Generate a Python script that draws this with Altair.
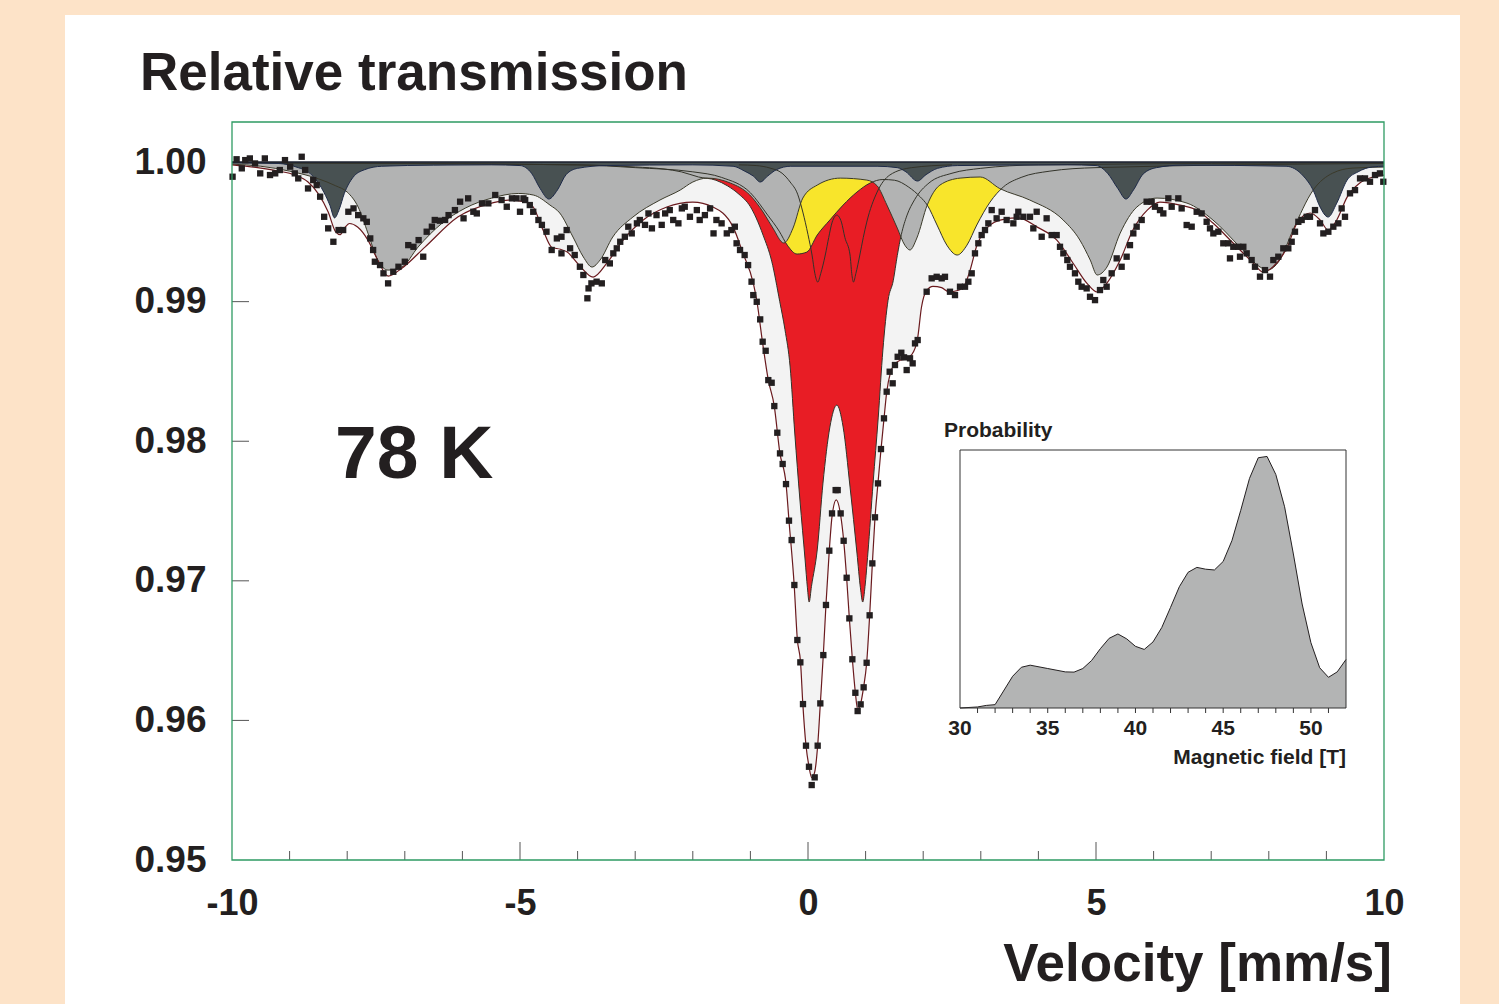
import altair as alt
import pandas as pd

# ---------------- data ----------------
# measured spectrum (velocity mm/s, relative transmission)
pts_x = [-9.99, -9.92, -9.83, -9.77, -9.69, -9.60, -9.51, -9.43, -9.34, -9.25, -9.17, -9.08, -8.99, -8.91, -8.85,
         -8.79, -8.73, -8.68, -8.59, -8.53, -8.47, -8.40, -8.33, -8.24, -8.15, -8.07, -7.98, -7.89, -7.81, -7.72,
         -7.66, -7.60, -7.55, -7.52, -7.43, -7.37, -7.29, -7.20, -7.11, -7.00, -6.94, -6.85, -6.76, -6.68, -6.62,
         -6.53, -6.48, -6.39, -6.30, -6.24, -6.13, -6.04, -5.98, -5.90, -5.81, -5.75, -5.66, -5.55, -5.43, -5.32,
         -5.23, -5.14, -5.06, -5.00, -4.94, -4.91, -4.83, -4.77, -4.68, -4.62, -4.54, -4.45, -4.36, -4.28, -4.19,
         -4.28, -4.13, -4.05, -3.96, -3.90, -3.83, -3.81, -3.76, -3.67, -3.58, -3.52, -3.44, -3.38, -3.32, -3.26,
         -3.18, -3.12, -3.06, -2.97, -2.92, -2.83, -2.77, -2.71, -2.63, -2.54, -2.48, -2.40, -2.34, -2.25, -2.19,
         -2.14, -2.05, -1.93, -1.88, -1.79, -1.70, -1.64, -1.59, -1.50, -1.41, -1.33, -1.27, -1.24, -1.18, -1.10,
         -1.04, -0.98, -0.95, -0.89, -0.83, -0.787, -0.735, -0.689, -0.631, -0.585, -0.533, -0.486, -0.440, -0.382,
         -0.330, -0.284, -0.237, -0.185, -0.133, -0.087, -0.035, 0.017, 0.064, 0.116, 0.168, 0.214, 0.266, 0.312,
         0.370, 0.417, 0.480, 0.515, 0.567, 0.619, 0.671, 0.718, 0.770, 0.822, 0.862, 0.914, 0.966, 1.018, 1.070,
         1.117, 1.163, 1.215, 1.267, 1.319, 1.366, 1.418, 1.470, 1.510, 1.557, 1.620, 1.667, 1.713, 1.771, 1.817,
         1.858, 1.904, 2.060, 2.147, 2.234, 2.321, 2.378, 2.465, 2.552, 2.639, 2.726, 2.784, 2.842, 2.899, 2.957,
         3.015, 3.073, 3.131, 3.189, 3.275, 3.362, 3.449, 3.565, 3.623, 3.651, 3.738, 3.854, 3.912, 3.970, 4.057,
         4.143, 4.230, 4.317, 4.375, 4.433, 4.502, 4.548, 4.635, 4.693, 4.751, 4.838, 4.896, 4.983, 5.069, 5.127,
         5.185, 5.272, 5.359, 5.445, 5.532, 5.590, 5.648, 5.706, 5.793, 5.879, 5.966, 6.024, 6.111, 6.169, 6.256,
         6.314, 6.429, 6.487, 6.574, 6.661, 6.748, 6.834, 6.921, 6.979, 7.037, 7.124, 7.210, 7.297, 7.384, 7.471,
         7.558, 7.326, 7.500, 7.616, 7.702, 7.760, 7.847, 7.934, 8.021, 8.079, 8.165, 8.252, 8.339, 8.397, 8.455,
         8.513, 8.571, 8.657, 8.715, 8.802, 8.889, 8.947, 9.034, 9.120, 9.207, 9.265, 9.323, 9.410, 9.497, 9.584,
         9.670, 9.757, 9.844, 9.930, 9.988]
pts_y = [0.99895, 1.00020, 0.99955, 1.00014, 1.00026, 0.99990, 0.99919, 1.00026, 0.99907, 0.99919, 0.99943, 1.00014,
         0.99967, 0.99919, 0.99883, 1.00038, 0.99943, 0.99811, 0.99871, 0.99835, 0.99752, 0.99608, 0.99525, 0.99429,
         0.99513, 0.99513, 0.99644, 0.99668, 0.99620, 0.99597, 0.99572, 0.99453, 0.99370, 0.99286, 0.99262, 0.99203,
         0.99131, 0.99214, 0.99250, 0.99286, 0.99405, 0.99393, 0.99441, 0.99322, 0.99501, 0.99537, 0.99585, 0.99580,
         0.99585, 0.99620, 0.99656, 0.99716, 0.99597, 0.99740, 0.99644, 0.99632, 0.99704, 0.99704, 0.99764, 0.99728,
         0.99680, 0.99740, 0.99740, 0.99644, 0.99740, 0.99728, 0.99692, 0.99644, 0.99585, 0.99550, 0.99501, 0.99370,
         0.99453, 0.99465, 0.99513, 0.99346, 0.99382, 0.99334, 0.99250, 0.99191, 0.99024, 0.99095, 0.99131, 0.99143,
         0.99131, 0.99298, 0.99274, 0.99346, 0.99382, 0.99429, 0.99465, 0.99537, 0.99489, 0.99561, 0.99585, 0.99550,
         0.99632, 0.99525, 0.99620, 0.99550, 0.99632, 0.99656, 0.99585, 0.99561, 0.99668, 0.99680, 0.99608, 0.99656,
         0.99585, 0.99620, 0.99668, 0.99489, 0.99585, 0.99561, 0.99489, 0.99513, 0.99537, 0.99418, 0.99370, 0.99334,
         0.99262, 0.99143, 0.99047, 0.98999, 0.98873, 0.98713, 0.98648, 0.98438, 0.98419, 0.98252, 0.98061, 0.97913,
         0.97837, 0.97693, 0.97431, 0.97292, 0.96970, 0.96576, 0.96416, 0.96117, 0.95819, 0.95668, 0.95537, 0.95592,
         0.95819, 0.96122, 0.96468, 0.96827, 0.97216, 0.97483, 0.97650, 0.97650, 0.97483, 0.97287, 0.97022, 0.96731,
         0.96438, 0.96198, 0.96067, 0.96115, 0.96237, 0.96413, 0.96753, 0.97125, 0.97455, 0.97698, 0.97944, 0.98164,
         0.98355, 0.98498, 0.98415, 0.98546, 0.98605, 0.98634, 0.98601, 0.98510, 0.98594, 0.98558, 0.98701, 0.98725,
         0.99071, 0.99167, 0.99178, 0.99167, 0.99178, 0.99071, 0.99047, 0.99107, 0.99107, 0.99143, 0.99203, 0.99346,
         0.99418, 0.99477, 0.99513, 0.99561, 0.99656, 0.99597, 0.99644, 0.99585, 0.99561, 0.99608, 0.99644, 0.99608,
         0.99608, 0.99525, 0.99644, 0.99465, 0.99597, 0.99477, 0.99477, 0.99393, 0.99346, 0.99298, 0.99250, 0.99203,
         0.99143, 0.99107, 0.99095, 0.99035, 0.99011, 0.99083, 0.99155, 0.99107, 0.99203, 0.99310, 0.99250, 0.99322,
         0.99405, 0.99489, 0.99537, 0.99585, 0.99716, 0.99716, 0.99680, 0.99656, 0.99632, 0.99740, 0.99680, 0.99740,
         0.99668, 0.99549, 0.99537, 0.99644, 0.99632, 0.99572, 0.99525, 0.99489, 0.99501, 0.99418, 0.99418, 0.99393,
         0.99393, 0.99393, 0.99310, 0.99322, 0.99346, 0.99298, 0.99250, 0.99179, 0.99226, 0.99179, 0.99298, 0.99322,
         0.99382, 0.99382, 0.99429, 0.99501, 0.99572, 0.99585, 0.99608, 0.99608, 0.99656, 0.99561, 0.99489, 0.99501,
         0.99537, 0.99561, 0.99668, 0.99608, 0.99776, 0.99799, 0.99883, 0.99883, 0.99859, 0.99907, 0.99919, 0.99859]

# total fit (envelope)
fit_x = [-10.0, -9.5, -9.2, -8.91, -8.68, -8.51, -8.33, -8.2, -8.12, -8.04, -7.96, -7.82, -7.64, -7.47, -7.29,
         -7.05, -6.65, -6.08, -5.49, -5.2, -4.9, -4.77, -4.6, -4.45, -4.3, -4.18, -3.98, -3.73, -3.49, -3.21, -2.86,
         -2.45, -2.0, -1.65, -1.3, -1.13, -0.95, -0.89, -0.79, -0.69, -0.585, -0.49, -0.38, -0.33, -0.24, -0.185,
         -0.13, -0.09, -0.035, 0.017, 0.065, 0.116, 0.168, 0.214, 0.266, 0.312, 0.37, 0.417, 0.49, 0.567, 0.619,
         0.671, 0.718, 0.77, 0.822, 0.862, 0.914, 0.966, 1.018, 1.07, 1.117, 1.163, 1.215, 1.267, 1.319, 1.366,
         1.43, 1.5, 1.6, 1.7, 1.8, 1.9, 1.97, 2.06, 2.17, 2.32, 2.45, 2.6, 2.72, 2.81, 2.93, 3.05, 3.2, 3.4, 3.65,
         3.98, 4.32, 4.6, 4.84, 5.02, 5.19, 5.42, 5.64, 5.89, 6.11, 6.46, 6.75, 7.03, 7.38, 7.73, 7.9, 8.07, 8.32,
         8.49, 8.72, 8.89, 9.03, 9.18, 9.36, 9.58, 9.81, 10.0]
fit_y = [0.9998, 0.99957, 0.99936, 0.99907, 0.99857, 0.99778, 0.99642, 0.995, 0.9948, 0.9953, 0.9956, 0.99535,
         0.99441, 0.99298, 0.99183, 0.9924, 0.99391, 0.99606, 0.99706, 0.99728, 0.99715, 0.99678, 0.99513, 0.9939,
         0.99375, 0.99355, 0.99265, 0.99176, 0.99277, 0.99441, 0.99585, 0.99678, 0.99713, 0.99678, 0.99534, 0.99348,
         0.99133, 0.9901, 0.9871, 0.9844, 0.9825, 0.9792, 0.9769, 0.9743, 0.9697, 0.9658, 0.9642, 0.9612, 0.9582,
         0.9567, 0.9559, 0.9563, 0.9582, 0.9612, 0.9647, 0.9683, 0.9722, 0.9746, 0.9758, 0.9747, 0.9729, 0.9702,
         0.9673, 0.9644, 0.962, 0.9608, 0.9612, 0.9624, 0.9641, 0.9675, 0.9712, 0.9745, 0.977, 0.9794, 0.9816,
         0.9835, 0.9849, 0.9855, 0.9858, 0.9859, 0.9862, 0.9873, 0.9896, 0.9908, 0.9911, 0.991, 0.9907, 0.9908,
         0.9912, 0.9922, 0.994, 0.995, 0.9956, 0.9959, 0.996, 0.99534, 0.99441, 0.99277, 0.99133, 0.99069, 0.99133,
         0.99298, 0.99513, 0.99656, 0.99713, 0.99692, 0.99656, 0.99563, 0.9942, 0.99277, 0.99212, 0.99248, 0.99391,
         0.99563, 0.99635, 0.99585, 0.99513, 0.99585, 0.99749, 0.9985, 0.99893, 0.99907]

# broad sextet (light grey)
gray_x = [-10, -9.5, -9.0, -8.5, -8.2, -8.0, -7.81, -7.64, -7.47, -7.29, -7.05, -6.77, -6.35, -5.95, -5.49, -5.03,
          -4.77, -4.48, -4.31, -4.08, -3.9, -3.75, -3.61, -3.39, -3.04, -2.57, -2.22, -2.0, -1.75, -1.35, -1.01,
          -0.78, -0.61, -0.42, -0.26, -0.09, 0.16, 0.56, 1.02, 1.2, 1.37, 1.55, 1.68, 1.77, 1.89, 2.07, 2.29, 2.64,
          2.99, 3.33, 3.85, 4.43, 4.72, 4.9, 5.02, 5.19, 5.42, 5.71, 6.06, 6.58, 7.03, 7.5, 7.85, 7.97, 8.19, 8.42,
          8.77, 9.11, 9.46, 10]
gray_y = [0.99985, 0.9997, 0.99935, 0.9988, 0.9983, 0.99785, 0.99678, 0.99491, 0.99298, 0.99226, 0.99248, 0.99391,
          0.99563, 0.9967, 0.99742, 0.99775, 0.99764, 0.99692, 0.99635, 0.99463, 0.9932, 0.99248, 0.99298, 0.99463,
          0.99606, 0.99728, 0.99799, 0.99857, 0.99885, 0.9985, 0.99764, 0.99642, 0.99527, 0.9942, 0.99527, 0.99742,
          0.99835, 0.99885, 0.99871, 0.9983, 0.99692, 0.99527, 0.99405, 0.9937, 0.99456, 0.99692, 0.99835, 0.99885,
          0.99893, 0.9981, 0.99728, 0.99585, 0.99441, 0.99298, 0.99191, 0.99248, 0.99491, 0.99678, 0.99742, 0.99706,
          0.99585, 0.99391, 0.99248, 0.99226, 0.99298, 0.99513, 0.99799, 0.99921, 0.99957, 0.99964]

# narrow sextet (dark grey)
dark_x = [-10, -9.2, -8.85, -8.68, -8.5, -8.4, -8.3, -8.22, -8.14, -8.05, -7.9, -7.7, -7.4, -6.5, -5.5, -5.0, -4.8,
          -4.65, -4.5, -4.35, -4.2, -4.0, -3.5, -2.0, -1.3, -1.1, -0.95, -0.83, -0.7, -0.55, -0.3, 1.2, 1.55, 1.7,
          1.9, 2.05, 2.25, 2.6, 4.5, 5.0, 5.2, 5.38, 5.52, 5.65, 5.82, 6.05, 6.5, 8.3, 8.6, 8.77, 8.89, 9.03, 9.18,
          9.36, 9.55, 9.8, 10]
dark_y = [0.99995, 0.9999, 0.9996, 0.9993, 0.9985, 0.9978, 0.9969, 0.996, 0.9966, 0.99775, 0.9989, 0.99945, 0.9997,
          0.99978, 0.9998, 0.99975, 0.9992, 0.9981, 0.99735, 0.998, 0.9991, 0.99955, 0.99975, 0.9998, 0.9997,
          0.99935, 0.999, 0.99857, 0.999, 0.99945, 0.9997, 0.9997, 0.9996, 0.9993, 0.99864, 0.9991, 0.99955, 0.99975,
          0.9998, 0.99975, 0.9992, 0.9981, 0.99735, 0.998, 0.99915, 0.9996, 0.99978, 0.9997, 0.999, 0.99799, 0.99678,
          0.99606, 0.99706, 0.99871, 0.9993, 0.99965, 0.9997]

# yellow doublet
yel_x = [-10, -4, -3, -2, -1.5, -1.0, -0.7, -0.5, -0.36, -0.19, -0.02, 0.16, 0.38, 0.61, 0.85, 1.08, 1.3, 1.5, 1.75,
         1.95, 2.07, 2.24, 2.41, 2.59, 2.76, 2.93, 3.16, 3.39, 3.7, 4.2, 5, 10]
yel_y = [0.99995, 0.9998, 0.9996, 0.9993, 0.9989, 0.9978, 0.9962, 0.99505, 0.99405, 0.99341, 0.99355, 0.99477,
         0.99585, 0.99692, 0.99785, 0.9985, 0.99875, 0.9987, 0.9982, 0.9975, 0.99692, 0.99549, 0.99405, 0.99334,
         0.99405, 0.99549, 0.99713, 0.99821, 0.9989, 0.99935, 0.9996, 0.9999]

# red doublet
red_x = [-10, -4, -3, -2.5, -2.2, -1.9, -1.6, -1.4, -1.2, -1.0, -0.9, -0.78, -0.63, -0.49, -0.4, -0.31, -0.23, -0.14,
         -0.05, -0.01, 0.02, 0.06, 0.16, 0.26, 0.38, 0.5, 0.61, 0.73, 0.85, 0.91, 0.95, 0.99, 1.04, 1.13, 1.22, 1.3,
         1.39, 1.48, 1.55, 1.62, 1.72, 1.85, 2.1, 2.5, 3, 4, 10]
red_y = [0.99995, 0.9998, 0.99965, 0.9995, 0.9993, 0.99893, 0.9987, 0.9983, 0.9977, 0.9968, 0.996, 0.99477, 0.9929,
         0.99, 0.988, 0.98532, 0.98059, 0.97579, 0.97149, 0.9695, 0.96848, 0.9696, 0.97221, 0.977, 0.98102, 0.98259,
         0.98102, 0.97672, 0.97199, 0.9695, 0.96848, 0.9696, 0.97199, 0.977, 0.98173, 0.98653, 0.9901, 0.9915,
         0.9933, 0.9948, 0.9962, 0.9973, 0.9985, 0.9992, 0.99955, 0.9998, 0.99995]

# narrow doublet (outline only)
nar_x = [-1.2, -0.9, -0.66, -0.45, -0.31, -0.18, -0.09, 0.0, 0.07, 0.12, 0.17, 0.22, 0.3, 0.36, 0.42, 0.5, 0.58,
         0.64, 0.73, 0.76, 0.79, 0.83, 0.9, 0.96, 1.02, 1.2, 1.42, 1.8, 2.5]
nar_y = [0.9998, 0.99975, 0.99957, 0.9992, 0.99857, 0.9977, 0.99642, 0.9948, 0.99334, 0.992, 0.9914, 0.992, 0.99334,
         0.9946, 0.9957, 0.9962, 0.9957, 0.9946, 0.99334, 0.992, 0.9914, 0.992, 0.99334, 0.9946, 0.9957, 0.99785,
         0.99907, 0.9996, 0.9998]

baseline_x = [-10, 10]
baseline_y = [1.0, 1.0]

# axis ticks
x_major = [-5, 0, 5]
x_minor = [-9, -8, -7, -6, -4, -3, -2, -1, 1, 2, 3, 4, 6, 7, 8, 9]
y_ticks = [0.96, 0.97, 0.98, 0.99]
x_labels = [-10, -5, 0, 5, 10]
y_labels = [0.95, 0.96, 0.97, 0.98, 0.99, 1.00]

# inset: hyperfine field distribution
field_T = [30, 31, 31.5, 32, 33, 33.5, 34, 35, 36, 36.5, 37, 37.5, 38, 38.5, 39, 39.5, 40, 40.5, 41, 41.5, 42,
           42.5, 43, 43.5, 44, 44.5, 45, 45.5, 46, 46.5, 47, 47.5, 48, 48.5, 49, 49.5, 50, 50.5, 51, 51.5, 52]
prob = [0, 0.004, 0.01, 0.013, 0.123, 0.158, 0.166, 0.153, 0.14, 0.139, 0.153, 0.184, 0.23, 0.27, 0.287, 0.268,
        0.239, 0.227, 0.256, 0.312, 0.39, 0.47, 0.526, 0.545, 0.538, 0.535, 0.568, 0.649, 0.766, 0.89, 0.97, 0.975,
        0.905, 0.78, 0.597, 0.403, 0.253, 0.156, 0.119, 0.14, 0.188]
inset_label_vals = [30, 35, 40, 45, 50]
inset_minor = list(range(31, 52))
inset_box_b = [30, 52]
inset_box_p = [0, 1]

title_text = "Relative transmission"
xlabel_text = "Velocity [mm/s]"
temp_text = "78 K"
inset_ytitle = "Probability"
inset_xtitle = "Magnetic field [T]"

# ---------------- styling ----------------
FONT = "Liberation Sans"
INK = "#231f20"
PEACH = "#fde3c8"
C_LIGHT = "#f3f3f3"
C_RED = "#e81d25"
C_YEL = "#f8e52b"
C_GRAY = "#b2b3b3"
C_DARK = "#485152"
C_LINE = "#33332a"
C_FRAME = "#2e9b63"

W, H = 1152, 738
PAD = {"left": 232, "top": 122, "right": 115, "bottom": 144}


def frame(xs, ys):
    return pd.DataFrame({"x": xs, "y": ys})


XS = alt.Scale(domain=[-10, 10], nice=False, zero=False)
YS = alt.Scale(domain=[0.95, 1.00287], nice=False, zero=False)
x_axis = alt.Axis(values=x_labels, labelExpr="'' + datum.value", title=None, ticks=False, tickSize=0,
                  domain=False, grid=False, labelFont=FONT, labelFontSize=36, labelFontWeight="bold",
                  labelColor=INK, labelPadding=26, labelFlush=False, labelOverlap=False, zindex=2)
y_axis = alt.Axis(values=y_labels, format=".2f", title=None, ticks=False, tickSize=0, domain=False, grid=False,
                  labelFont=FONT, labelFontSize=37, labelFontWeight="bold", labelColor=INK, labelPadding=26,
                  labelFlush=False, labelOverlap=False, zindex=2)
X = alt.X("x:Q", scale=XS, axis=x_axis)
Y = alt.Y("y:Q", scale=YS, axis=y_axis)


def fill(xs, ys, color):
    return alt.Chart(frame(xs, ys)).mark_area(color=color, opacity=1, interpolate="monotone").encode(
        x=X, y=Y, y2=alt.datum(1.0))


def outline(xs, ys, color, w=1.0):
    return alt.Chart(frame(xs, ys)).mark_line(color=color, strokeWidth=w, interpolate="monotone").encode(x=X, y=Y)


env_fill = fill(fit_x, fit_y, C_LIGHT)
red_fill = fill(red_x, red_y, C_RED)
yel_fill = fill(yel_x, yel_y, C_YEL)
gray_fill = fill(gray_x, gray_y, C_GRAY)
dark_fill = fill(dark_x, dark_y, C_DARK)

red_line = outline(red_x, red_y, C_LINE)
yel_line = outline(yel_x, yel_y, C_LINE)
nar_line = outline(nar_x, nar_y, C_LINE)
gray_line = outline(gray_x, gray_y, "#3b3a2a")
dark_line = outline(dark_x, dark_y, "#1e2a48")
fit_line = outline(fit_x, fit_y, "#6a1a1e", 1.2)
base_line = alt.Chart(frame(baseline_x, baseline_y)).mark_line(color="#1a1f2e", strokeWidth=1.6).encode(x=X, y=Y)

points = alt.Chart(frame(pts_x, pts_y)).mark_square(size=40, color=INK, opacity=1).encode(x=X, y=Y)

xt_major = alt.Chart(pd.DataFrame({"x": x_major})).mark_rule(color="#555555", strokeWidth=1).encode(
    x=X, y=alt.value(H), y2=alt.value(H - 18))
xt_minor = alt.Chart(pd.DataFrame({"x": x_minor})).mark_rule(color="#555555", strokeWidth=1).encode(
    x=X, y=alt.value(H), y2=alt.value(H - 9))
yt = alt.Chart(pd.DataFrame({"y": y_ticks})).mark_rule(color="#555555", strokeWidth=1).encode(
    y=Y, x=alt.value(0), x2=alt.value(17))

main = alt.layer(env_fill, red_fill, yel_fill, gray_fill, dark_fill,
                 red_line, yel_line, nar_line, gray_line, dark_line, base_line,
                 fit_line, points, xt_major, xt_minor, yt)

# ---------------- inset ----------------
BS = alt.Scale(domain=[30, 52], range=[728, 1114], nice=False, zero=False)
PS = alt.Scale(domain=[0, 1], range=[586, 328], nice=False, zero=False)
B = alt.X("b:Q", scale=BS, axis=None)
P = alt.Y("p:Q", scale=PS, axis=None)

inset_area = alt.Chart(pd.DataFrame({"b": field_T, "p": prob})).mark_area(
    color="#b3b4b4", opacity=1, line={"color": INK, "strokeWidth": 1}).encode(x=B, y=P, y2=alt.datum(0))
inset_box = alt.Chart(pd.DataFrame({"b": [inset_box_b[0]], "b2": [inset_box_b[1]],
                                    "p": [inset_box_p[0]], "p2": [inset_box_p[1]]})).mark_rect(
    fill=None, fillOpacity=0, stroke="#333333", strokeWidth=1).encode(x=B, x2="b2:Q", y=P, y2="p2:Q")
inset_ticks = alt.Chart(pd.DataFrame({"b": inset_minor})).mark_rule(color="#333333", strokeWidth=1).encode(
    x=B, y=alt.value(586), y2=alt.value(591))
inset_lbl = alt.Chart(pd.DataFrame({"b": inset_label_vals, "t": [str(v) for v in inset_label_vals]})).mark_text(
    font=FONT, fontSize=21, fontWeight="bold", color=INK, align="center", baseline="alphabetic").encode(
    x=B, y=alt.value(613), text="t:N")

inset = alt.layer(inset_area, inset_box, inset_ticks, inset_lbl)


# ---------------- decoration ----------------
def label(text, x, y, size, align="left"):
    return alt.Chart(pd.DataFrame({"t": [text]})).mark_text(
        font=FONT, fontSize=size, fontWeight="bold", color=INK, align=align, baseline="alphabetic").encode(
        x=alt.value(x), y=alt.value(y), text="t:N")


panel = alt.Chart(pd.DataFrame({"k": [0]})).mark_rect(color="white").encode(
    x=alt.value(-167), x2=alt.value(1228), y=alt.value(-107), y2=alt.value(900))
border = alt.Chart(pd.DataFrame({"k": [0]})).mark_rect(
    fill=None, fillOpacity=0, stroke=C_FRAME, strokeWidth=1.3).encode(
    x=alt.value(0), x2=alt.value(W), y=alt.value(0), y2=alt.value(H))

texts = alt.layer(
    label(title_text, -92, -32, 53),
    label(xlabel_text, 1160, 859, 53, "right"),
    label(temp_text, 103, 356, 75),
    label(inset_ytitle, 712, 315, 21),
    label(inset_xtitle, 1114, 642, 21, "right"),
)

chart = alt.layer(panel, main, border, inset, texts).resolve_scale(
    x="independent", y="independent"
).properties(
    width=W, height=H, padding=PAD, autosize=alt.AutoSizeParams(type="none"), background=PEACH
).configure_view(strokeWidth=0)

chart.save("out.html", embed_options={"renderer": "svg", "actions": False})
